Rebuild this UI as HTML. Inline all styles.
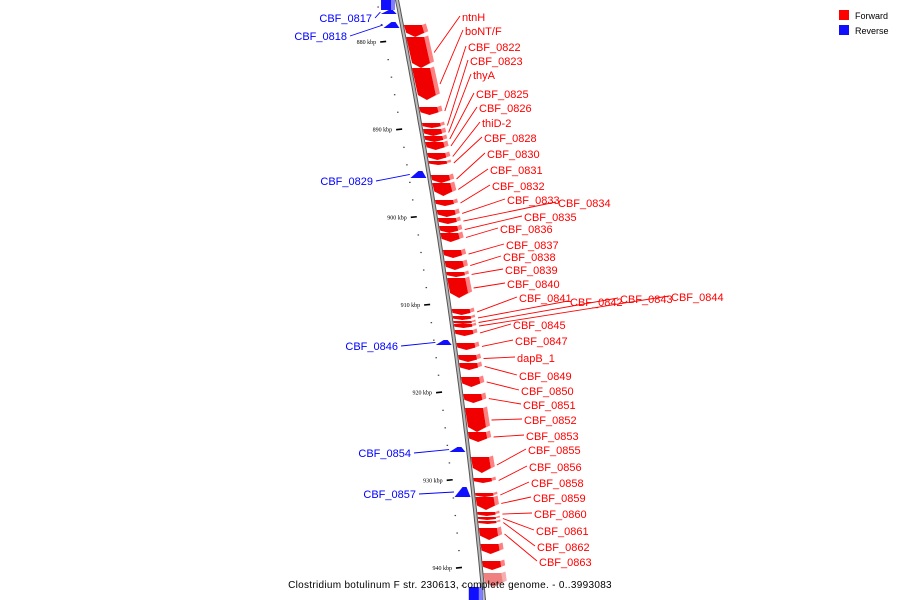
<!DOCTYPE html>
<html><head><meta charset="utf-8"><style>
html,body{margin:0;padding:0;background:#fff;}
svg{display:block;font-family:"Liberation Sans",sans-serif;}
</style></head><body>
<svg id="chart" width="900" height="600" viewBox="0 0 900 600" xmlns="http://www.w3.org/2000/svg">
<g id="ticks"></g>
<path id="axis" fill="none" stroke="#555" stroke-width="4"/>
<path id="axis2" fill="none" stroke="#bbb" stroke-width="2"/>
<g id="genes"></g>
<g id="labels"></g>
<g>
<rect x="839" y="10" width="10" height="10" fill="#ff0000"/>
<text x="855" y="19" font-size="9" fill="#000">Forward</text>
<rect x="839" y="25" width="10" height="10" fill="#1010ff"/>
<text x="855" y="34" font-size="9" fill="#000">Reverse</text>
</g>
<text x="450" y="588" font-size="10" text-anchor="middle" letter-spacing="0.3" fill="#000">Clostridium botulinum F str. 230613, complete genome. - 0..3993083</text>
</svg>
<script>
// data (kbp offsets from 880)
const fwdNames = ["", "ntnH","boNT/F","CBF_0822","CBF_0823","thyA","CBF_0825","CBF_0826","thiD-2","CBF_0828","CBF_0830","CBF_0831","CBF_0832","CBF_0833","CBF_0834","CBF_0835","CBF_0836","CBF_0837","CBF_0838","CBF_0839","CBF_0840","CBF_0841","CBF_0842","CBF_0843","CBF_0844","CBF_0845","CBF_0847","dapB_1","CBF_0849","CBF_0850","CBF_0851","CBF_0852","CBF_0853","CBF_0855","CBF_0856","CBF_0858","CBF_0859","CBF_0860","CBF_0861","CBF_0862","CBF_0863","","",""];
const fwdStart = [-1.94,-0.57,2.97,7.41,9.24,9.92,10.72,11.41,12.66,13.57,15.17,16.08,18.02,19.16,20.08,20.99,21.79,23.73,24.98,26.23,26.92,30.45,31.25,31.82,32.17,32.85,34.33,35.70,36.61,38.21,40.15,41.75,44.48,47.34,49.73,51.44,51.90,53.61,54.18,54.64,55.43,57.26,59.20,60.57];
const fwdEnd   = [-0.57,2.97,6.62,8.33,9.81,10.72,11.41,12.32,13.46,14.03,16.08,17.57,18.71,19.96,20.76,21.79,22.81,24.64,26.01,26.80,29.20,31.14,31.71,32.17,32.62,33.53,35.13,36.50,37.41,39.35,41.18,44.48,45.63,49.16,50.30,51.90,53.38,54.07,54.52,54.98,56.80,58.40,60.23,62.16];
const revNames = ["","CBF_0817","CBF_0818","CBF_0829","CBF_0846","CBF_0854","CBF_0857",""];
const revStart = [-5.93,-3.65,-2.28,14.71,33.99,46.20,50.76,62.16];
const revEnd   = [-3.65,-3.19,-1.60,15.51,34.56,46.77,51.90,64.79];
const tickKbp = [880,890,900,910,920,930,940];
const tickLabels = ["880 kbp","890 kbp","900 kbp","910 kbp","920 kbp","930 kbp","940 kbp"];
// label placement (layout)
const fwdLabelPos = [null,[462,21],[465,35],[468,51],[470,65],[473,79],[476,98],[479,112],[482,127],[484,142],[487,158],[490,174],[492,190],[507,204],[558,207],[524,221],[500,233],[506,249],[503,261],[505,274],[507,288],[519,302],[570,306],[620,303],[671,301],[513,329],[515,345],[517,362],[519,380],[521,395],[523,409],[524,424],[526,440],[528,454],[529,471],[531,487],[533,502],[534,518],[536,535],[537,551],[539,566],null,null,null];
const revLabelPos = [null,[372,22],[347,40],[373,185],[398,350],[411,457],[416,498],null];

const NS="http://www.w3.org/2000/svg";
const yOf = k => 42 + (k)*8.767;
const xOf = y => 397 + 0.1975*y - 0.0000875*y*y;
function mk(tag, attrs, parent){const e=document.createElementNS(NS,tag);for(const k in attrs)e.setAttribute(k,attrs[k]);parent.appendChild(e);return e;}

let d="";for(let y=-5;y<=605;y+=5){d+=(y===-5?"M":"L")+xOf(y).toFixed(1)+" "+y+" ";}
document.getElementById('axis').setAttribute('d',d);
document.getElementById('axis2').setAttribute('d',d);

const tg=document.getElementById('ticks');
for(let k=-6;k<=64;k+=2){
  const y=yOf(k), x=xOf(y)-20;
  const major = tickKbp.indexOf(880+k);
  if(major>=0){
    const t=mk('line',{x1:x-5,y1:y,x2:x+1,y2:y-0.6,stroke:'#000','stroke-width':1.6},tg);
    
    
    const tx=mk('text',{x:x-9,y:y+2,'font-size':6,'text-anchor':'end',fill:'#000','font-family':'Liberation Serif, serif'},tg);
    
    
    tx.textContent=tickLabels[major];
  } else {
    const t=mk('rect',{x:x-1,y:y-0.5,width:1.5,height:1.2,fill:'#444'},tg);
    
    
  }
}

const gg=document.getElementById('genes'), lg=document.getElementById('labels');
for(let i=0;i<fwdStart.length;i++){
  const y0=yOf(fwdStart[i]), y1=yOf(fwdEnd[i]);
  const a=xOf(y0)+2, b=xOf(y1)+2, h=Math.min(5,(y1-y0)*0.35);
  const g=mk('g',{},gg);
  
  
  const pink=i===fwdStart.length-1;
  mk('polygon',{points:`${a+18},${y0} ${a+22},${y0-1.5} ${b+22},${y1-h-1.5} ${b+9},${y1} ${b+18},${y1-h}`,fill:pink?'#f4b0b0':'#ff8080'},g);
  mk('polygon',{points:`${a},${y0} ${a+18},${y0} ${b+18},${y1-h} ${b+9},${y1} ${b},${y1-h}`,fill:pink?'#f08080':'#f00000'},g);
  const p=fwdLabelPos[i];
  if(p){
    const m=(y0+y1)/2, lx=xOf(m)+27;
    const ln=mk('line',{x1:lx,y1:m,x2:p[0]-2,y2:p[1]-5,stroke:'#ff0000','stroke-width':0.9},lg);
    
    
    const t=mk('text',{x:p[0],y:p[1],'font-size':11,fill:'#ff0000'},lg);
    
    
    t.textContent=fwdNames[i];
  }
}
for(let i=0;i<revStart.length;i++){
  const y0=yOf(revStart[i]), y1=yOf(revEnd[i]);
  const r=xOf(y1)-3, big=(y1-y0)>12;
  const g=mk('g',{},gg);
  
  
  if(big){
    const L=xOf(y0)-14;
    mk('rect',{x:L,y:y0,width:14,height:y1-y0,fill:'#1010ff'},g);
    mk('rect',{x:L+10,y:y0,width:4,height:y1-y0,fill:'#8080ff'},g);
  } else {
    const h=Math.max(y1-y0,4);
    mk('polygon',{points:`${r-16},${y1} ${r},${y1} ${r-4},${y1-h} ${r-8},${y1-h}`,fill:'#1010ff'},g);
  }
  const p=revLabelPos[i];
  if(p){
    const m=(y0+y1)/2;
    const ln=mk('line',{x1:p[0]+3,y1:p[1]-4,x2:xOf(m)-19,y2:m,stroke:'#0000ff','stroke-width':0.9},lg);
    
    
    const t=mk('text',{x:p[0],y:p[1],'font-size':11,fill:'#0000ff','text-anchor':'end'},lg);
    
    
    t.textContent=revNames[i];
  }
}
</script>
</body></html>
